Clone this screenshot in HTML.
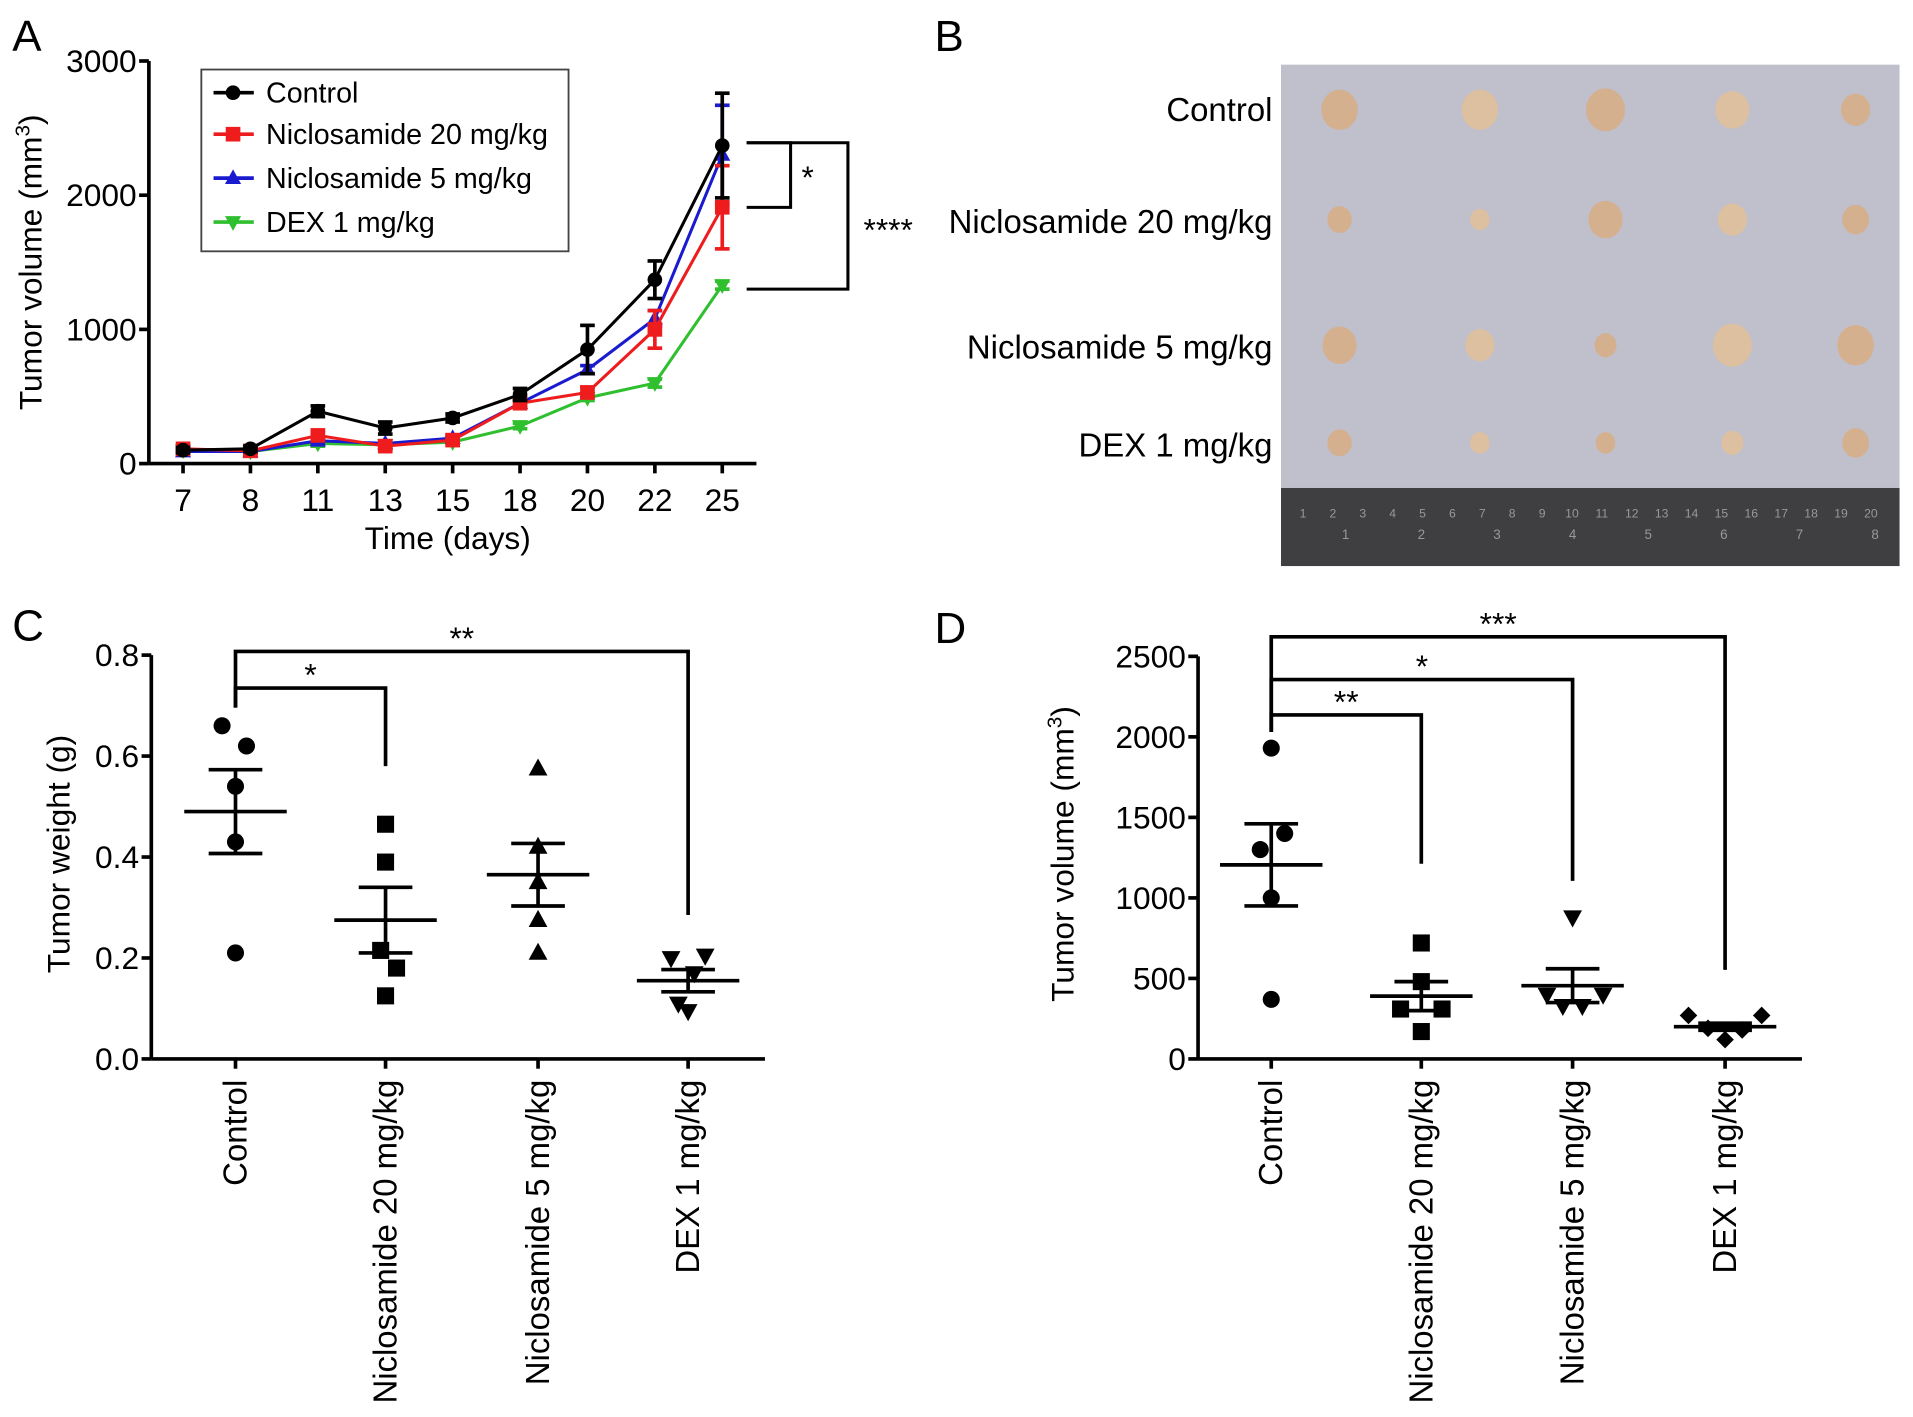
<!DOCTYPE html>
<html><head><meta charset="utf-8"><style>
html,body{margin:0;padding:0;background:#fff}
svg{display:block;font-family:"Liberation Sans",Arial,sans-serif}
</style></head><body>
<svg id="fig" width="1913" height="1417" viewBox="0 0 1568 1161.5" xmlns="http://www.w3.org/2000/svg">
<rect width="1568" height="1161.5" fill="#fff"/>
<g id="A"></g>
<g id="B"></g>
<g id="C"></g>
<g id="D"></g>
</svg>
<script>
// ---- Panel A data ----
const daysA = ["7","8","11","13","15","18","20","22","25"];
const yTicksA = [0,1000,2000,3000];
const seriesNamesA = ["Control","Niclosamide 20 mg/kg","Niclosamide 5 mg/kg","DEX 1 mg/kg"];
const controlA = [100,110,390,265,340,515,850,1370,2370];
const controlErrA = [20,20,40,45,30,45,180,140,390];
const nic20A = [110,95,210,130,175,450,530,1000,1910];
const nic20ErrA = [20,15,30,25,20,30,40,140,310];
const nic5A = [90,90,170,150,190,450,700,1080,2300];
const nic5ErrA = [15,15,25,20,20,30,30,60,370];
const dexA = [100,90,150,140,160,280,490,600,1330];
const dexErrA = [15,10,20,15,15,20,20,30,30];
// ---- Panel C data ----
const groupsCD = ["Control","Niclosamide 20 mg/kg","Niclosamide 5 mg/kg","DEX 1 mg/kg"];
const yTicksC = [0.0,0.2,0.4,0.6,0.8];
const controlC = [0.66,0.62,0.54,0.43,0.21];
const nic20C = [0.465,0.39,0.215,0.18,0.125];
const nic5C = [0.575,0.42,0.35,0.275,0.21];
const dexC = [0.2,0.205,0.17,0.11,0.095];
const meanC = [0.49,0.275,0.365,0.155];
const semC = [0.083,0.065,0.062,0.022];
// ---- Panel D data ----
const yTicksD = [0,500,1000,1500,2000,2500];
const controlD = [1930,1300,1400,1000,370];
const nic20D = [720,480,310,310,170];
const nic5D = [880,400,330,330,400];
const dexD = [270,270,190,180,120];
const meanD = [1205,390,455,200];
const semD = [255,90,105,22];

const NS="http://www.w3.org/2000/svg";
function mk(parent,tag,attrs,text){const e=document.createElementNS(NS,tag);for(const k in attrs)e.setAttribute(k,attrs[k]);if(text!==undefined)e.textContent=text;parent.appendChild(e);return e;}
function line(p,x1,y1,x2,y2,c,w){return mk(p,'line',{x1,y1,x2,y2,stroke:c||'#000','stroke-width':w||3});}
function marker(p,shape,x,y,s,c){
  let e;
  if(shape==='circle') e=mk(p,'circle',{cx:x,cy:y,r:s,fill:c});
  else if(shape==='square') e=mk(p,'rect',{x:x-s,y:y-s,width:2*s,height:2*s,fill:c});
  else if(shape==='up') e=mk(p,'polygon',{points:`${x},${y-s*1.2} ${x-s*1.1},${y+s*0.8} ${x+s*1.1},${y+s*0.8}`,fill:c});
  else if(shape==='down') e=mk(p,'polygon',{points:`${x},${y+s*1.2} ${x-s*1.1},${y-s*0.8} ${x+s*1.1},${y-s*0.8}`,fill:c});
  else e=mk(p,'polygon',{points:`${x},${y-s*1.2} ${x+s*1.2},${y} ${x},${y+s*1.2} ${x-s*1.2},${y}`,fill:c});
  return e;
}

// ===== Panel A =====
(function(){
  const g=document.getElementById('A');
  const X0=122,X1=620,Y0=380,Y1=50,xs=i=>150+i*55.25,ys=v=>Y0-(v/3000)*(Y0-Y1);
  const lab=mk(g,'text',{x:10,y:42,'font-size':36},'A');
  
  
  line(g,X0,Y0,X1,Y0,'#000',3);line(g,X0,Y0,X0,Y1,'#000',3);
  yTicksA.forEach(v=>{line(g,X0-8,ys(v),X0,ys(v),'#000',3);
    const t=mk(g,'text',{x:X0-10,y:ys(v)+9,'font-size':26,'text-anchor':'end'},String(v));
    });
  daysA.forEach((d,i)=>{line(g,xs(i),Y0,xs(i),Y0+8,'#000',3);
    const t=mk(g,'text',{x:xs(i),y:Y0+39,'font-size':26,'text-anchor':'middle'},d);
    });
  const xt=mk(g,'text',{x:367,y:450,'font-size':26,'text-anchor':'middle'},'Time (days)');
  
  const yt=mk(g,'text',{transform:'translate(34,215) rotate(-90)','font-size':26,'text-anchor':'middle'});
  
  yt.innerHTML='Tumor volume (mm<tspan dy="-10" font-size="17">3</tspan><tspan dy="10">)</tspan>';
  const sets=[[dexA,dexErrA,'#2fbf2f','down'],[nic5A,nic5ErrA,'#1a1ad0','up'],[nic20A,nic20ErrA,'#ee1c1c','square'],[controlA,controlErrA,'#000','circle']];
  sets.forEach(([vals,errs,c,sh],k)=>{
    const sg=mk(g,'g',{});
    
    
    vals.forEach((v,i)=>{const x=xs(i);line(sg,x,ys(v+errs[i]),x,ys(v-errs[i]),c,3);line(sg,x-6,ys(v+errs[i]),x+6,ys(v+errs[i]),c,3);line(sg,x-6,ys(v-errs[i]),x+6,ys(v-errs[i]),c,3);});
    mk(sg,'polyline',{points:vals.map((v,i)=>xs(i)+','+ys(v)).join(' '),fill:'none',stroke:c,'stroke-width':2.5});
    vals.forEach((v,i)=>{const m=marker(sg,sh,xs(i),ys(v),6,c);});
  });
  // legend
  const lg=mk(g,'g',{});
  
  mk(lg,'rect',{x:165,y:57,width:301,height:149,fill:'#fff',stroke:'#444','stroke-width':1.5});
  const cols=['#000','#ee1c1c','#1a1ad0','#2fbf2f'],shp=['circle','square','up','down'],ly=[76,110,146,182];
  seriesNamesA.forEach((n,i)=>{const e=mk(lg,'g',{});
    
    line(e,175,ly[i],208,ly[i],cols[i],3);marker(e,shp[i],191,ly[i],6,cols[i]);
    mk(e,'text',{x:218,y:ly[i]+8,'font-size':23.5},n);});
  // significance brackets
  const sb=mk(g,'g',{});
  
  mk(sb,'polyline',{points:'612,117 648,117 648,170 612,170',fill:'none',stroke:'#000','stroke-width':2.5});
  mk(sb,'polyline',{points:'612,117 695,117 695,237 612,237',fill:'none',stroke:'#000','stroke-width':2.5});
  mk(sb,'text',{x:662,y:154,'font-size':26,'text-anchor':'middle'},'*');
  mk(sb,'text',{x:728,y:197,'font-size':26,'text-anchor':'middle'},'****');
})();

// ===== Panel B (photo) =====
(function(){
  const g=document.getElementById('B');
  const lab=mk(g,'text',{x:766,y:42,'font-size':36},'B');
  
  const ph=mk(g,'g',{});
  
  mk(ph,'rect',{x:1050,y:53,width:507,height:350,fill:'#c0bfcc'});
  mk(ph,'rect',{x:1050,y:400,width:507,height:64,fill:'#3f3e40'});
  for(let i=0;i<20;i++){mk(ph,'text',{x:1068+i*24.5,y:424,'font-size':10,fill:'#999','text-anchor':'middle'},String(i+1));}
  for(let i=0;i<8;i++){mk(ph,'text',{x:1103+i*62,y:442,'font-size':11,fill:'#999','text-anchor':'middle'},String(i+1));}
  const rows=[[90,[15,15,16,14,12]],[180,[10,8,14,12,11]],[283,[14,12,9,16,15]],[363,[10,8,8,9,11]]];
  const cx=[1098,1213,1316,1420,1521];
  rows.forEach(([y,sz])=>sz.forEach((s,i)=>{mk(ph,'ellipse',{cx:cx[i],cy:y,rx:s,ry:s*1.1,fill:i%2?'#dcc0a0':'#d4b08e'});}));
  const names=['Control','Niclosamide 20 mg/kg','Niclosamide 5 mg/kg','DEX 1 mg/kg'],ny=[99,191,294,374];
  names.forEach((n,i)=>{const t=mk(g,'text',{x:1043,y:ny[i],'font-size':27,'text-anchor':'end'},n);
    });
})();

// ===== Scatter panels C & D =====
function scatter(id,opt){
  const g=document.getElementById(id);
  const {X0,X1,Y0,Y1,max,ticks,fmt,xs,data,means,sems,shapes,title,label,lx,ly,tx,brackets,offsets}=opt;
  const ys=v=>Y0-(v/max)*(Y0-Y1);
  const lab=mk(g,'text',{x:lx,y:ly,'font-size':36},label);
  
  line(g,X0,Y0,X1,Y0,'#000',3);line(g,X0,Y0,X0,Y1,'#000',3);
  ticks.forEach(v=>{line(g,X0-8,ys(v),X0,ys(v),'#000',3);
    const t=mk(g,'text',{x:X0-10,y:ys(v)+9,'font-size':26,'text-anchor':'end'},fmt(v));
    });
  groupsCD.forEach((n,i)=>{line(g,xs[i],Y0,xs[i],Y0+8,'#000',3);
    const t=mk(g,'text',{transform:`translate(${xs[i]+9},${Y0+17}) rotate(-90)`,'font-size':27,'text-anchor':'end'},n);
    });
  const yt=mk(g,'text',{transform:`translate(${tx},700) rotate(-90)`,'font-size':26,'text-anchor':'middle'});
  
  yt.innerHTML=title;
  data.forEach((vals,i)=>{
    const gg=mk(g,'g',{});
    
    vals.forEach((v,k)=>{const m=marker(gg,shapes[i],xs[i]+offsets[i][k],ys(v),shapes[i]==='diamond'?6:7,'#000');
      });
    const m=means[i],s=sems[i];
    line(gg,xs[i]-42,ys(m),xs[i]+42,ys(m),'#000',3);
    line(gg,xs[i],ys(m+s),xs[i],ys(m-s),'#000',3);
    line(gg,xs[i]-22,ys(m+s),xs[i]+22,ys(m+s),'#000',3);
    line(gg,xs[i]-22,ys(m-s),xs[i]+22,ys(m-s),'#000',3);
  });
  const sb=mk(g,'g',{});
  
  brackets.forEach(([j,top,bot,star])=>{
    mk(sb,'polyline',{points:`${xs[0]},${opt.ctlBot} ${xs[0]},${top} ${xs[j]},${top} ${xs[j]},${bot}`,fill:'none',stroke:'#000','stroke-width':3});
    mk(sb,'text',{x:(xs[0]+xs[j])/2,y:top-2,'font-size':26,'text-anchor':'middle'},star);
  });
}
scatter('C',{X0:124,X1:627,Y0:868,Y1:537,max:0.8,ticks:yTicksC,fmt:v=>v.toFixed(1),xs:[193,316,441,564],
  data:[controlC,nic20C,nic5C,dexC],means:meanC,sems:semC,shapes:['circle','square','up','down'],
  offsets:[[-11,9,0,0,0],[0,0,-4,9,0],[0,0,0,0,0],[-14,14,5,-8,0]],
  title:'Tumor weight (g)',label:'C',lx:10,ly:525,tx:57,ctlBot:580,
  brackets:[[3,534,750,'**'],[1,564,628,'*']]});
scatter('D',{X0:982,X1:1477,Y0:868,Y1:538,max:2500,ticks:yTicksD,fmt:v=>String(v),xs:[1042,1165,1289,1414],
  data:[controlD,nic20D,nic5D,dexD],means:meanD,sems:semD,shapes:['circle','square','down','diamond'],
  offsets:[[0,-9,11,0,0],[0,0,-17,17,0],[0,-21,-8,8,25],[-30,30,-14,14,0]],
  title:'Tumor volume (mm<tspan dy="-10" font-size="17">3</tspan><tspan dy="10">)</tspan>',label:'D',lx:766,ly:527,tx:880,ctlBot:600,
  brackets:[[3,522,795,'***'],[2,557,722,'*'],[1,586,708,'**']]});
</script>
</body></html>
